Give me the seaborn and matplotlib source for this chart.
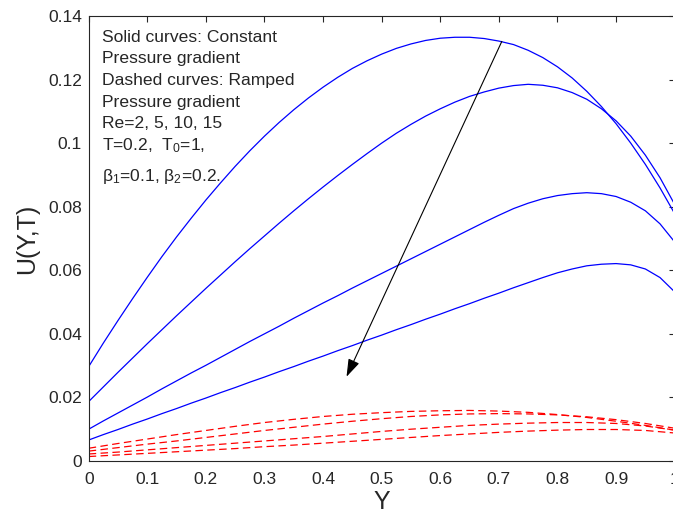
# U(Y,T) velocity profiles: constant vs ramped pressure gradient

import seaborn as sns
import matplotlib.pyplot as plt
import pandas as pd

# Data
# solid curves are sampled more densely, they bend sharply near the peaks
Y_fine = [0.000, 0.025, 0.050, 0.075, 0.100, 0.125, 0.150, 0.175, 0.200, 0.225,
          0.250, 0.275, 0.300, 0.325, 0.350, 0.375, 0.400, 0.425, 0.450, 0.475,
          0.500, 0.525, 0.550, 0.575, 0.600, 0.625, 0.650, 0.675, 0.700, 0.725,
          0.750, 0.775, 0.800, 0.825, 0.850, 0.875, 0.900, 0.925, 0.950, 0.975, 1.000]

# Solid curves: constant pressure gradient (Re = 2, 5, 10, 15)
const_re2 = [0.0297, 0.0371, 0.0442, 0.0511, 0.0578, 0.0643, 0.0705, 0.0764, 0.0821, 0.0875,
             0.0927, 0.0976, 0.1022, 0.1065, 0.1105, 0.1142, 0.1176, 0.1207, 0.1235, 0.1259,
             0.1280, 0.1298, 0.1312, 0.1323, 0.1330, 0.1333, 0.1333, 0.1329, 0.1321, 0.1310,
             0.1292, 0.1269, 0.1240, 0.1205, 0.1163, 0.1115, 0.1061, 0.1000, 0.0933, 0.0859, 0.0778]
const_re5 = [0.0187, 0.0233, 0.0279, 0.0324, 0.0369, 0.0413, 0.0457, 0.0500, 0.0543, 0.0585,
             0.0627, 0.0668, 0.0708, 0.0748, 0.0787, 0.0825, 0.0862, 0.0898, 0.0933, 0.0967,
             0.1000, 0.1031, 0.1059, 0.1085, 0.1108, 0.1129, 0.1147, 0.1161, 0.1173, 0.1181,
             0.1185, 0.1182, 0.1174, 0.1159, 0.1138, 0.1108, 0.1070, 0.1022, 0.0962, 0.0891, 0.0807]
const_re10 = [0.0100, 0.0126, 0.0151, 0.0176, 0.0201, 0.0227, 0.0252, 0.0277, 0.0301, 0.0326,
              0.0351, 0.0376, 0.0400, 0.0424, 0.0449, 0.0473, 0.0497, 0.0520, 0.0544, 0.0567,
              0.0590, 0.0613, 0.0636, 0.0659, 0.0682, 0.0705, 0.0728, 0.0751, 0.0773, 0.0794,
              0.0811, 0.0825, 0.0835, 0.0841, 0.0844, 0.0841, 0.0832, 0.0814, 0.0787, 0.0746, 0.0689]
const_re15 = [0.0066, 0.0083, 0.0099, 0.0116, 0.0132, 0.0149, 0.0165, 0.0182, 0.0198, 0.0215,
              0.0231, 0.0248, 0.0264, 0.0281, 0.0297, 0.0314, 0.0330, 0.0347, 0.0363, 0.0380,
              0.0396, 0.0413, 0.0429, 0.0446, 0.0462, 0.0479, 0.0495, 0.0512, 0.0528, 0.0545,
              0.0561, 0.0577, 0.0592, 0.0604, 0.0614, 0.0619, 0.0621, 0.0617, 0.0604, 0.0577, 0.0532]

Y = [0.00, 0.05, 0.10, 0.15, 0.20, 0.25, 0.30, 0.35, 0.40, 0.45, 0.50,
     0.55, 0.60, 0.65, 0.70, 0.75, 0.80, 0.85, 0.90, 0.95, 1.00]

# Dashed curves: ramped pressure gradient
ramp_re2 = [0.0040, 0.0055, 0.0069, 0.0083, 0.0096, 0.0109, 0.0121, 0.0131, 0.0140, 0.0147, 0.0152,
            0.0156, 0.0158, 0.0159, 0.0157, 0.0153, 0.0146, 0.0137, 0.0125, 0.0112, 0.0097]
ramp_re5 = [0.0031, 0.0042, 0.0053, 0.0063, 0.0074, 0.0085, 0.0096, 0.0106, 0.0116, 0.0125, 0.0133,
            0.0140, 0.0145, 0.0148, 0.0149, 0.0148, 0.0145, 0.0139, 0.0130, 0.0118, 0.0103]
ramp_re10 = [0.0022, 0.0028, 0.0035, 0.0042, 0.0049, 0.0056, 0.0063, 0.0070, 0.0077, 0.0085, 0.0093,
             0.0100, 0.0106, 0.0112, 0.0116, 0.0119, 0.0121, 0.0121, 0.0118, 0.0110, 0.0097]
ramp_re15 = [0.0014, 0.0019, 0.0024, 0.0029, 0.0034, 0.0039, 0.0045, 0.0050, 0.0056, 0.0062, 0.0068,
             0.0074, 0.0080, 0.0085, 0.0090, 0.0094, 0.0097, 0.0099, 0.0099, 0.0096, 0.0088]

x_ticks = [0, 0.1, 0.2, 0.3, 0.4, 0.5, 0.6, 0.7, 0.8, 0.9, 1.0]
x_tick_labels = ['0', '0.1', '0.2', '0.3', '0.4', '0.5', '0.6', '0.7', '0.8', '0.9', '1']
y_ticks = [0, 0.02, 0.04, 0.06, 0.08, 0.10, 0.12, 0.14]
y_tick_labels = ['0', '0.02', '0.04', '0.06', '0.08', '0.1', '0.12', '0.14']

note_lines = ['Solid curves: Constant',
              'Pressure gradient',
              'Dashed curves: Ramped',
              'Pressure gradient',
              'Re=2, 5, 10, 15',
              r'T=0.2,  T$\mathregular{_0}$=1,',
              r'β$\mathregular{_1}$=0.1, β$\mathregular{_2}$=0.2.']

solid = pd.DataFrame({'Y': Y_fine, 'c2': const_re2, 'c5': const_re5,
                      'c10': const_re10, 'c15': const_re15})
dashed = pd.DataFrame({'Y': Y, 'r2': ramp_re2, 'r5': ramp_re5,
                       'r10': ramp_re10, 'r15': ramp_re15})

sns.set_theme(style="white")
plt.rcParams['font.family'] = ['Liberation Sans', 'DejaVu Sans']
plt.rcParams['mathtext.fontset'] = 'custom'
plt.rcParams['mathtext.rm'] = 'Liberation Sans'

dark = '#262626'
fig = plt.figure(figsize=(6.73, 5.15), dpi=100)
ax = fig.add_axes([0.1318, 0.1049, 0.8707, 0.8641])

for col in ['c2', 'c5', 'c10', 'c15']:
    sns.lineplot(data=solid, x='Y', y=col, ax=ax, color='#0000ff', linewidth=0.9,
                 estimator=None, errorbar=None)
for col in ['r2', 'r5', 'r10', 'r15']:
    sns.lineplot(data=dashed, x='Y', y=col, ax=ax, color='#ff0000', linewidth=0.9,
                 linestyle=(0, (6, 3.5)), estimator=None, errorbar=None)

# arrow showing increasing Re
ax.annotate('', xy=(0.44, 0.0265), xytext=(0.705, 0.132),
            arrowprops=dict(arrowstyle='-|>,head_length=0.9,head_width=0.3',
                            color='black', lw=0.8, shrinkA=0, shrinkB=0))

ax.set_xlim(0, 1)
ax.set_ylim(0, 0.14)
ax.set_xticks(x_ticks)
ax.set_xticklabels(x_tick_labels)
ax.set_yticks(y_ticks)
ax.set_yticklabels(y_tick_labels)
ax.tick_params(direction='in', length=4.3, width=0.8, top=True, right=True,
               labelsize=12.5, colors=dark, pad=5)
ax.tick_params(axis='x', pad=8)
for s in ax.spines.values():
    s.set_color(dark)
    s.set_linewidth(0.8)

ax.set_xlabel('Y', fontsize=18, color=dark, labelpad=2)
ax.set_ylabel('U(Y,T)', fontsize=18, color=dark, labelpad=6)

# annotation text block (pixel positions of baselines)
baselines = [41.7, 63.3, 85.0, 106.7, 128.3, 150.0, 181.0]
for line, yb in zip(note_lines, baselines):
    fig.text(102.5 / 673, 1 - yb / 515, line, fontsize=12.6, color=dark,
             va='baseline', ha='left')

fig.savefig('out.png', dpi=100)
